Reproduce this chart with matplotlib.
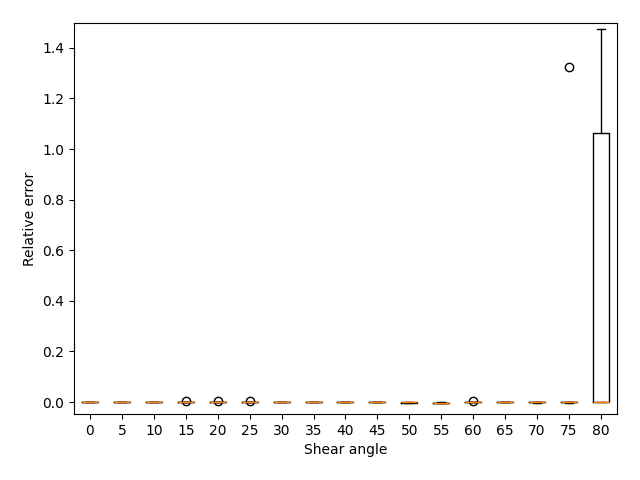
import numpy as np
import matplotlib
matplotlib.use("Agg")
import matplotlib.pyplot as plt

angles = [0, 5, 10, 15, 20, 25, 30, 35, 40, 45, 50, 55, 60, 65, 70, 75, 80]

# relative error samples per shear angle
err_0 = [0.0000, 0.0005, 0.0010, 0.0012, 0.0015]
err_5 = [0.0000, 0.0005, 0.0010, 0.0012, 0.0015]
err_10 = [0.0000, 0.0005, 0.0010, 0.0012, 0.0015]
err_15 = [0.0000, 0.0003, 0.0005, 0.0007, 0.0030]
err_20 = [0.0000, 0.0003, 0.0005, 0.0007, 0.0030]
err_25 = [0.0000, 0.0003, 0.0005, 0.0007, 0.0030]
err_30 = [0.0000, 0.0005, 0.0010, 0.0012, 0.0015]
err_35 = [0.0000, 0.0005, 0.0010, 0.0012, 0.0015]
err_40 = [0.0000, 0.0005, 0.0010, 0.0015, 0.0020]
err_45 = [0.0000, 0.0005, 0.0010, 0.0012, 0.0015]
err_50 = [-0.0030, -0.0020, -0.0010, 0.0000, 0.0005]
err_55 = [-0.0040, -0.0035, -0.0030, -0.0020, -0.0010]
err_60 = [0.0000, 0.0003, 0.0005, 0.0007, 0.0030]
err_65 = [0.0000, 0.0005, 0.0010, 0.0012, 0.0015]
err_70 = [-0.0020, -0.0010, 0.0000, 0.0010, 0.0015]
err_75 = [-0.0020, 0.0000, 0.0010, 0.0020, 1.3250]
err_80 = [0.0000, 0.0000, 0.0010, 1.0620, 1.4740]

data = [err_0, err_5, err_10, err_15, err_20, err_25, err_30, err_35, err_40,
        err_45, err_50, err_55, err_60, err_65, err_70, err_75, err_80]

fig, ax = plt.subplots(figsize=(6.4, 4.8), dpi=100)
fig.subplots_adjust(left=0.1156, right=0.964, top=0.952, bottom=0.1375)
ax.boxplot(data, tick_labels=[str(a) for a in angles])
ax.set_ylim(-0.047, 1.498)
ax.set_xlabel("Shear angle")
ax.set_ylabel("Relative error")

plt.savefig("out.png", dpi=100)
plt.close()
